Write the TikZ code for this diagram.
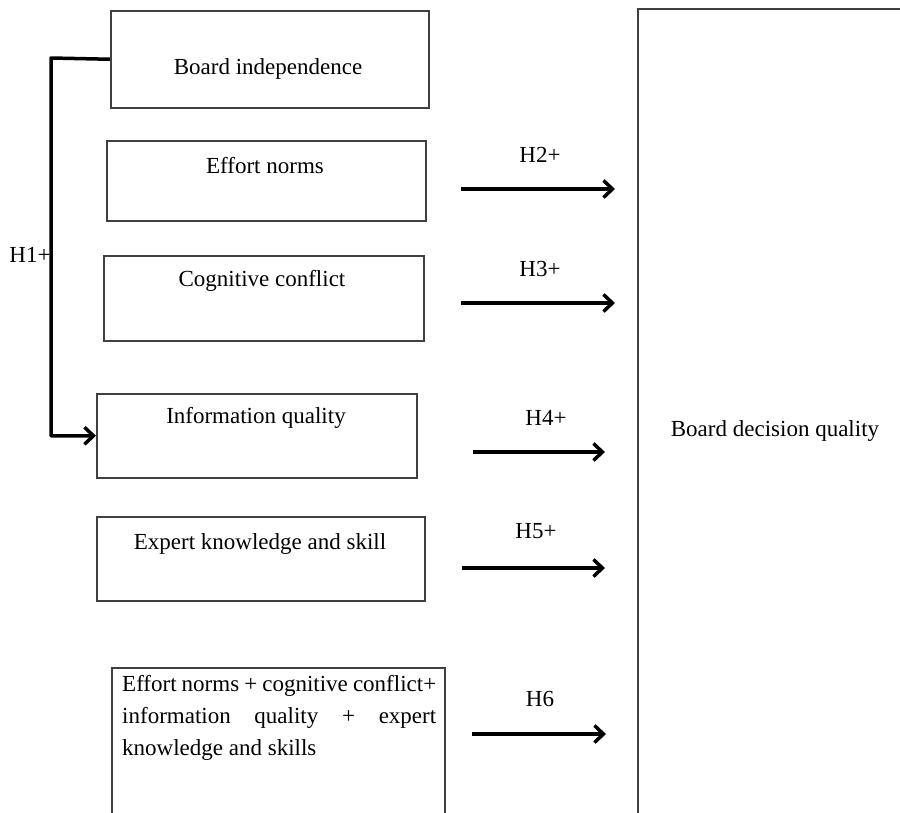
\documentclass[tikz,border=0pt]{standalone}
\usepackage{fontspec}
\setmainfont{Liberation Serif}
\usetikzlibrary{arrows.meta}
\begin{document}
\begin{tikzpicture}[x=1pt,y=-1pt,
  txt/.style={font=\fontsize{23}{27}\selectfont, inner sep=0pt},
  box/.style={draw=black!75, line width=1.5pt, anchor=north west, inner sep=0pt},
  arr/.style={line width=3.5pt, -{Straight Barb[length=9pt,width=17pt,line width=3.5pt]}},
]
\useasboundingbox (0,0) rectangle (900,812);
% boxes
\node[box, minimum width=318pt, minimum height=97pt] (bi) at (110,10) {};
\node[box, minimum width=319pt, minimum height=80pt] (en) at (106,140) {};
\node[box, minimum width=320pt, minimum height=85pt] (cc) at (103,255) {};
\node[box, minimum width=320pt, minimum height=84pt] (iq) at (96,393) {};
\node[box, minimum width=328pt, minimum height=84pt] (ek) at (96,516) {};
\node[box, minimum width=333pt, minimum height=170pt] (all) at (111,667) {};
\node[box, minimum width=300pt, minimum height=830pt] (bdq) at (637,8) {};
% texts
\node[txt] (tbi) at (268,69) {Board independence};
\node[txt] (ten) at (265,166) {Effort norms};
\node[txt] (tcc) at (262,281) {Cognitive conflict};
\node[txt] (tiq) at (256,418) {Information quality};
\node[txt] (tek) at (260,544) {Expert knowledge and skill};
\node[txt, anchor=north west, align=left] (tall) at (122,675) {%
  \makebox[314pt][s]{Effort norms + cognitive conflict+}\\[5pt]
  \makebox[314pt][s]{information quality + expert}\\[5pt]
  knowledge and skills};
\node[txt] (tbdq) at (775,431) {Board decision quality};
% hypothesis labels
\node[txt] (h1) at (30,255) {H1+};
\node[txt] (h2) at (540,155) {H2+};
\node[txt] (h3) at (540,269) {H3+};
\node[txt] (h4) at (546,418) {H4+};
\node[txt] (h5) at (536,531) {H5+};
\node[txt] (h6) at (540,699) {H6};
% arrow coordinates
\coordinate (a2s) at (461,189); \coordinate (a2e) at (615,189);
\coordinate (a3s) at (461,303); \coordinate (a3e) at (615,303);
\coordinate (a4s) at (473,452); \coordinate (a4e) at (605,452);
\coordinate (a5s) at (462,568); \coordinate (a5e) at (605,568);
\coordinate (a6s) at (472,734); \coordinate (a6e) at (606,734);
\draw[arr] (a2s) -- (a2e);
\draw[arr] (a3s) -- (a3e);
\draw[arr] (a4s) -- (a4e);
\draw[arr] (a5s) -- (a5e);
\draw[arr] (a6s) -- (a6e);
% H1 bracket
\coordinate (k1) at (51,58);
\draw[arr, line join=round] (bi.west) -- (k1) |- (iq.west);
\end{tikzpicture}
\end{document}
